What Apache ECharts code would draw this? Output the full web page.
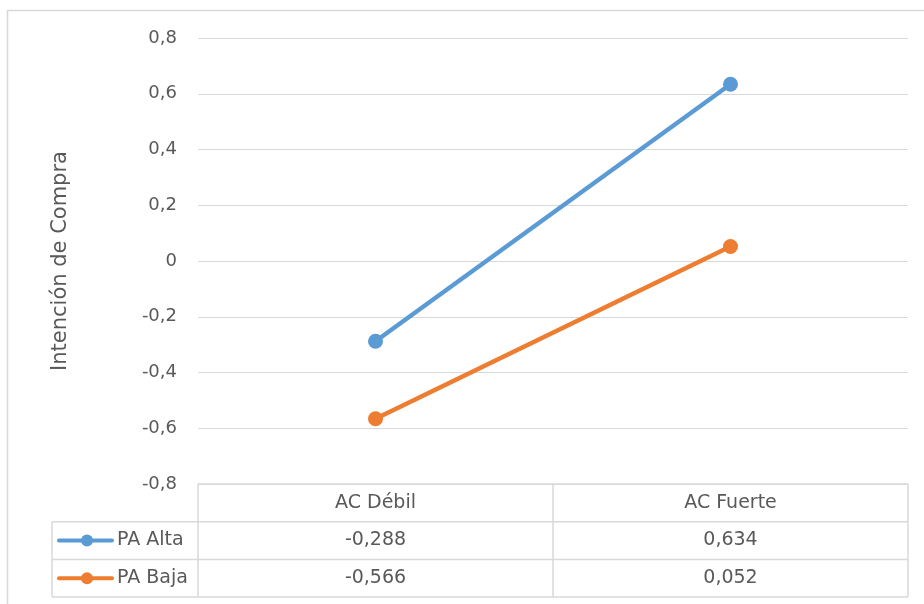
<!DOCTYPE html>
<html>
<head>
<meta charset="utf-8">
<script src="https://cdn.jsdelivr.net/npm/echarts@6/dist/echarts.min.js"></script>
<style>
  html, body { margin: 0; padding: 0; background: #fff; }
  #chart { width: 924px; height: 604px; }
</style>
</head>
<body>
<div id="chart"></div>
<script>
// Categories and series values
const categories = ['AC Débil', 'AC Fuerte'];
const seriesNames = ['PA Alta', 'PA Baja'];
const paAlta = [-0.288, 0.634];
const paBaja = [-0.566, 0.052];
const seriesValues = [paAlta, paBaja];
const seriesColors = ['#5B9BD5', '#ED7D31'];

const FONT = '"DejaVu Sans", "Noto Sans", sans-serif';
const TEXT = '#595959';
const GRIDC = '#d9d9d9';
const FS = 18;      // axis labels
const FS_T = 19;    // data table

// Plot area geometry
const W = 924, H = 604;
const gLeft = 198, gRight = 908, gTop = 38, gBottom = 484;
const rowH = 37.7;
const tableLeft = 52;

const fmt = v => v.toFixed(3).replace('.', ',');
const fmtAxis = v => {
  const r = Math.round(v * 10) / 10;
  return r === 0 ? '0' : r.toFixed(1).replace('.', ',');
};

const chart = echarts.init(document.getElementById('chart'), null, { renderer: 'canvas' });

// Data table (header row + one row per series) drawn under the plot
function buildTable() {
  const els = [];
  const colW = (gRight - gLeft) / categories.length;
  const line = (x1, y1, x2, y2) => ({
    type: 'line', silent: true,
    shape: { x1, y1, x2, y2 },
    style: { stroke: GRIDC, lineWidth: 1.5 }
  });
  const tableBottom = gBottom + rowH * (seriesNames.length + 1);
  els.push(line(gLeft, gBottom, gRight, gBottom));
  for (let r = 1; r <= seriesNames.length + 1; r++) {
    const y = gBottom + rowH * r;
    els.push(line(tableLeft, y, gRight, y));
  }
  els.push(line(tableLeft, gBottom + rowH, tableLeft, tableBottom));
  for (let c = 0; c <= categories.length; c++) {
    const x = gLeft + colW * c;
    els.push(line(x, gBottom, x, tableBottom));
  }
  categories.forEach((cat, c) => {
    els.push({
      type: 'text', silent: true,
      x: gLeft + colW * (c + 0.5), y: gBottom + rowH / 2,
      style: { text: cat, fill: TEXT, font: FS_T + 'px ' + FONT, align: 'center', verticalAlign: 'middle' }
    });
  });
  seriesNames.forEach((name, s) => {
    const cy = gBottom + rowH * (s + 1.5);
    els.push({
      type: 'line', silent: true,
      shape: { x1: 59, y1: cy, x2: 112, y2: cy },
      style: { stroke: seriesColors[s], lineWidth: 4, lineCap: 'round' }
    });
    els.push({
      type: 'circle', silent: true,
      shape: { cx: 87, cy: cy, r: 6 },
      style: { fill: seriesColors[s] }
    });
    els.push({
      type: 'text', silent: true,
      x: 117, y: cy,
      style: { text: name, fill: TEXT, font: FS_T + 'px ' + FONT, align: 'left', verticalAlign: 'middle' }
    });
    seriesValues[s].forEach((v, c) => {
      els.push({
        type: 'text', silent: true,
        x: gLeft + colW * (c + 0.5), y: cy,
        style: { text: fmt(v), fill: TEXT, font: FS_T + 'px ' + FONT, align: 'center', verticalAlign: 'middle' }
      });
    });
  });
  // outer frame of the chart area
  els.push({
    type: 'rect', silent: true,
    shape: { x: 7.5, y: 10.5, width: W + 20, height: H + 20 },
    style: { fill: 'none', stroke: GRIDC, lineWidth: 1.5 }
  });
  return els;
}

chart.setOption({
  backgroundColor: '#fff',
  animation: false,
  textStyle: { fontFamily: FONT },
  grid: { left: gLeft, right: W - gRight, top: gTop, bottom: H - gBottom, containLabel: false },
  xAxis: {
    type: 'category',
    data: categories,
    boundaryGap: true,
    axisLine: { show: false },
    axisTick: { show: false },
    axisLabel: { show: false },
    splitLine: { show: false }
  },
  yAxis: {
    type: 'value',
    min: -0.8, max: 0.8, interval: 0.2,
    name: 'Intención de Compra',
    nameLocation: 'middle',
    nameGap: 127,
    nameRotate: 90,
    nameTextStyle: { color: TEXT, fontSize: 21, fontFamily: FONT },
    axisLine: { show: false },
    axisTick: { show: false },
    axisLabel: {
      color: TEXT, fontSize: FS, fontFamily: FONT, margin: 21,
      formatter: fmtAxis
    },
    splitLine: { show: true, lineStyle: { color: GRIDC, width: 1.2 } }
  },
  series: seriesNames.map((name, s) => ({
    name,
    type: 'line',
    data: seriesValues[s],
    symbol: 'circle',
    symbolSize: 15,
    lineStyle: { width: 4.5, color: seriesColors[s] },
    itemStyle: { color: seriesColors[s] },
    z: 3
  })),
  graphic: buildTable()
});
</script>
</body>
</html>
